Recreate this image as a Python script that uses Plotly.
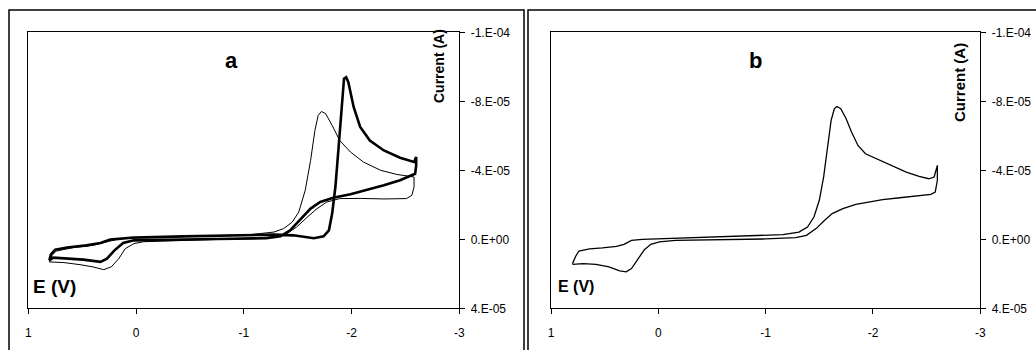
import plotly.graph_objects as go

# ---------------- data (E in V, current in microamps) ----------------
# Panel a, thin curve (closed CV loop starting at +0.8 V)
a_thin_E = [0.805, 0.78, 0.74, 0.58, 0.40, 0.27, 0.15, -0.13, -0.59, -1.06, -1.28, -1.37,
            -1.45, -1.51, -1.57, -1.62, -1.66, -1.69, -1.72, -1.76, -1.82, -1.89, -1.99,
            -2.11, -2.27, -2.42, -2.54, -2.58,
            -2.58, -2.56, -2.51, -2.30, -2.08, -1.89, -1.77, -1.68, -1.59, -1.49, -1.40,
            -1.28, -0.90, -0.44, -0.07, 0.02, 0.10, 0.16, 0.23, 0.30, 0.40, 0.52, 0.67, 0.805]
a_thin_I = [13.1, 9.3, 6.8, 4.8, 3.5, 1.5, -0.4, -1.0, -1.7, -2.7, -4.2, -6.2,
            -10.0, -15.8, -28.4, -45.8, -63.1, -71.8, -74.1, -72.8, -66.0, -57.3, -50.6,
            -44.8, -40.0, -37.6, -36.5, -36.1,
            -30.3, -25.5, -23.6, -23.4, -23.7, -23.6, -21.6, -17.8, -12.9, -7.1, -3.3,
            -1.4, -0.2, 0.6, 1.4, 2.5, 5.4, 11.2, 16.0, 17.6, 16.0, 14.7, 13.5, 13.1]

# Panel a, thick curve
a_thick_E = [0.805, 0.79, 0.75, 0.64, 0.46, 0.33, 0.24, 0.02, -0.44, -0.90, -1.28, -1.46,
             -1.65, -1.74, -1.79, -1.82, -1.85, -1.88, -1.91, -1.93, -1.95, -1.97, -2.02,
             -2.08, -2.17, -2.30, -2.45, -2.58, -2.60, -2.60, -2.59,
             -2.45, -2.30, -2.14, -1.99, -1.83, -1.71, -1.62, -1.52, -1.43, -1.34, -1.21,
             -0.75, -0.28, 0.02, 0.12, 0.20, 0.27, 0.33, 0.49, 0.64, 0.77, 0.805]
a_thick_I = [12.2, 8.7, 6.0, 4.8, 3.5, 2.1, 0.2, -1.0, -1.7, -2.3, -2.7, -2.3,
             -0.6, -1.7, -5.2, -14.9, -30.3, -53.5, -76.6, -93.1, -94.0, -91.1, -76.6,
             -65.1, -57.3, -51.5, -47.3, -44.8, -47.7, -42.9, -38.0,
             -34.2, -31.3, -28.4, -26.1, -24.1, -21.6, -17.8, -11.0, -5.2, -1.7, -0.6,
             -0.2, 0.2, 0.6, 2.1, 6.4, 11.2, 13.1, 11.8, 11.0, 10.6, 12.2]

# Panel b, single curve
b_E = [0.80, 0.77, 0.74, 0.64, 0.52, 0.39, 0.32, 0.25, 0.15, -0.23, -0.54, -0.85, -1.16,
       -1.31, -1.39, -1.45, -1.50, -1.54, -1.58, -1.61, -1.64, -1.665, -1.70, -1.75, -1.80,
       -1.86, -1.93, -2.06, -2.18, -2.31, -2.43, -2.52, -2.57, -2.59, -2.60,
       -2.60, -2.58, -2.54, -2.40, -2.25, -2.09, -1.97, -1.84, -1.72, -1.62, -1.55, -1.47,
       -1.38, -1.28, -1.00, -0.54, -0.16, -0.01, 0.07, 0.13, 0.19, 0.25, 0.30, 0.36, 0.46,
       0.58, 0.70, 0.80]
b_I = [14.1, 9.8, 6.8, 5.6, 5.0, 4.1, 2.9, 0.6, 0.0, -0.8, -1.4, -1.9, -2.7,
       -4.2, -7.1, -12.9, -22.6, -36.1, -55.4, -68.9, -75.7, -77.0, -75.7, -69.9, -62.2,
       -54.4, -49.6, -46.1, -42.9, -39.0, -36.5, -35.1, -36.1, -40.0, -42.9,
       -34.2, -27.4, -26.1, -25.3, -24.1, -23.0, -21.6, -20.3, -17.8, -14.9, -11.0, -6.2,
       -2.3, -1.0, -0.2, 0.2, 0.6, 1.5, 2.9, 6.0, 11.2, 17.0, 18.9, 18.3, 16.0,
       14.5, 14.1, 14.5]

x_ticks = [1, 0, -1, -2, -3]
x_tick_text = ["1", "0", "-1", "-2", "-3"]
y_ticks = [-1.2e-4, -8e-5, -4e-5, 0, 4e-5]
y_tick_text = ["-1.E-04", "-8.E-05", "-4.E-05", "0.E+00", "4.E-05"]


def amps(vals):
    return [v * 1e-6 for v in vals]


W, H = 1036, 350
FONT = "Liberation Sans, Arial, sans-serif"

fig = go.Figure()
fig.add_trace(go.Scatter(x=a_thin_E, y=amps(a_thin_I), mode="lines",
                         line=dict(color="black", width=1), xaxis="x", yaxis="y",
                         showlegend=False, hoverinfo="skip"))
fig.add_trace(go.Scatter(x=a_thick_E, y=amps(a_thick_I), mode="lines",
                         line=dict(color="black", width=2.6), xaxis="x", yaxis="y",
                         showlegend=False, hoverinfo="skip"))
fig.add_trace(go.Scatter(x=b_E, y=amps(b_I), mode="lines",
                         line=dict(color="black", width=1.3), xaxis="x2", yaxis="y2",
                         showlegend=False, hoverinfo="skip"))


def px_x(p):
    return p / W


def px_y(p):
    return 1 - p / H


ax_common = dict(showgrid=False, zeroline=False, showline=True, mirror=True,
                 linecolor="black", linewidth=1, ticks="outside", ticklen=5,
                 tickcolor="black", automargin=False,
                 tickfont=dict(family=FONT, size=12, color="black"))

x_common = dict(ax_common, range=[1, -3], tickvals=x_ticks, ticktext=x_tick_text,
                ticklabelstandoff=8)
y_common = dict(ax_common, range=[4e-5, -1.2e-4], tickvals=y_ticks, ticktext=y_tick_text,
                side="right", ticklabelstandoff=3)

ydom = [px_y(308.3), px_y(32.3)]

fig.update_layout(
    width=W, height=H,
    margin=dict(l=0, r=0, t=0, b=0, pad=0),
    paper_bgcolor="white", plot_bgcolor="white",
    xaxis=dict(x_common, domain=[px_x(28.3), px_x(459.3)], anchor="y"),
    yaxis=dict(y_common, domain=ydom, anchor="x"),
    xaxis2=dict(x_common, domain=[px_x(551), px_x(980.3)], anchor="y2"),
    yaxis2=dict(y_common, domain=ydom, anchor="x2"),
)

# outer chart frames
frame = dict(type="rect", xref="paper", yref="paper", line=dict(color="black", width=1.5),
             fillcolor="rgba(0,0,0,0)")
fig.add_shape(frame, x0=px_x(9), x1=px_x(524), y0=px_y(380), y1=px_y(10))
fig.add_shape(frame, x0=px_x(528), x1=px_x(1080), y0=px_y(380), y1=px_y(10))


def label(text, x, y, size, angle=0):
    fig.add_annotation(text="<b>%s</b>" % text, x=px_x(x), y=px_y(y), xref="paper",
                       yref="paper", showarrow=False, xanchor="center", yanchor="middle",
                       textangle=angle, font=dict(family=FONT, size=size, color="black"))


label("a", 231, 60, 22)
label("b", 755, 61, 22)
label("Current (A)", 439, 66, 14, -90)
label("Current (A)", 960, 83, 15, -90)
label("E (V)", 54, 286, 19)
label("E (V)", 576, 286, 16)

fig.write_html("out.html",
               config={"displayModeBar": False},
               post_script="document.body.style.margin='0px';"
                           "document.body.style.overflow='hidden';")
